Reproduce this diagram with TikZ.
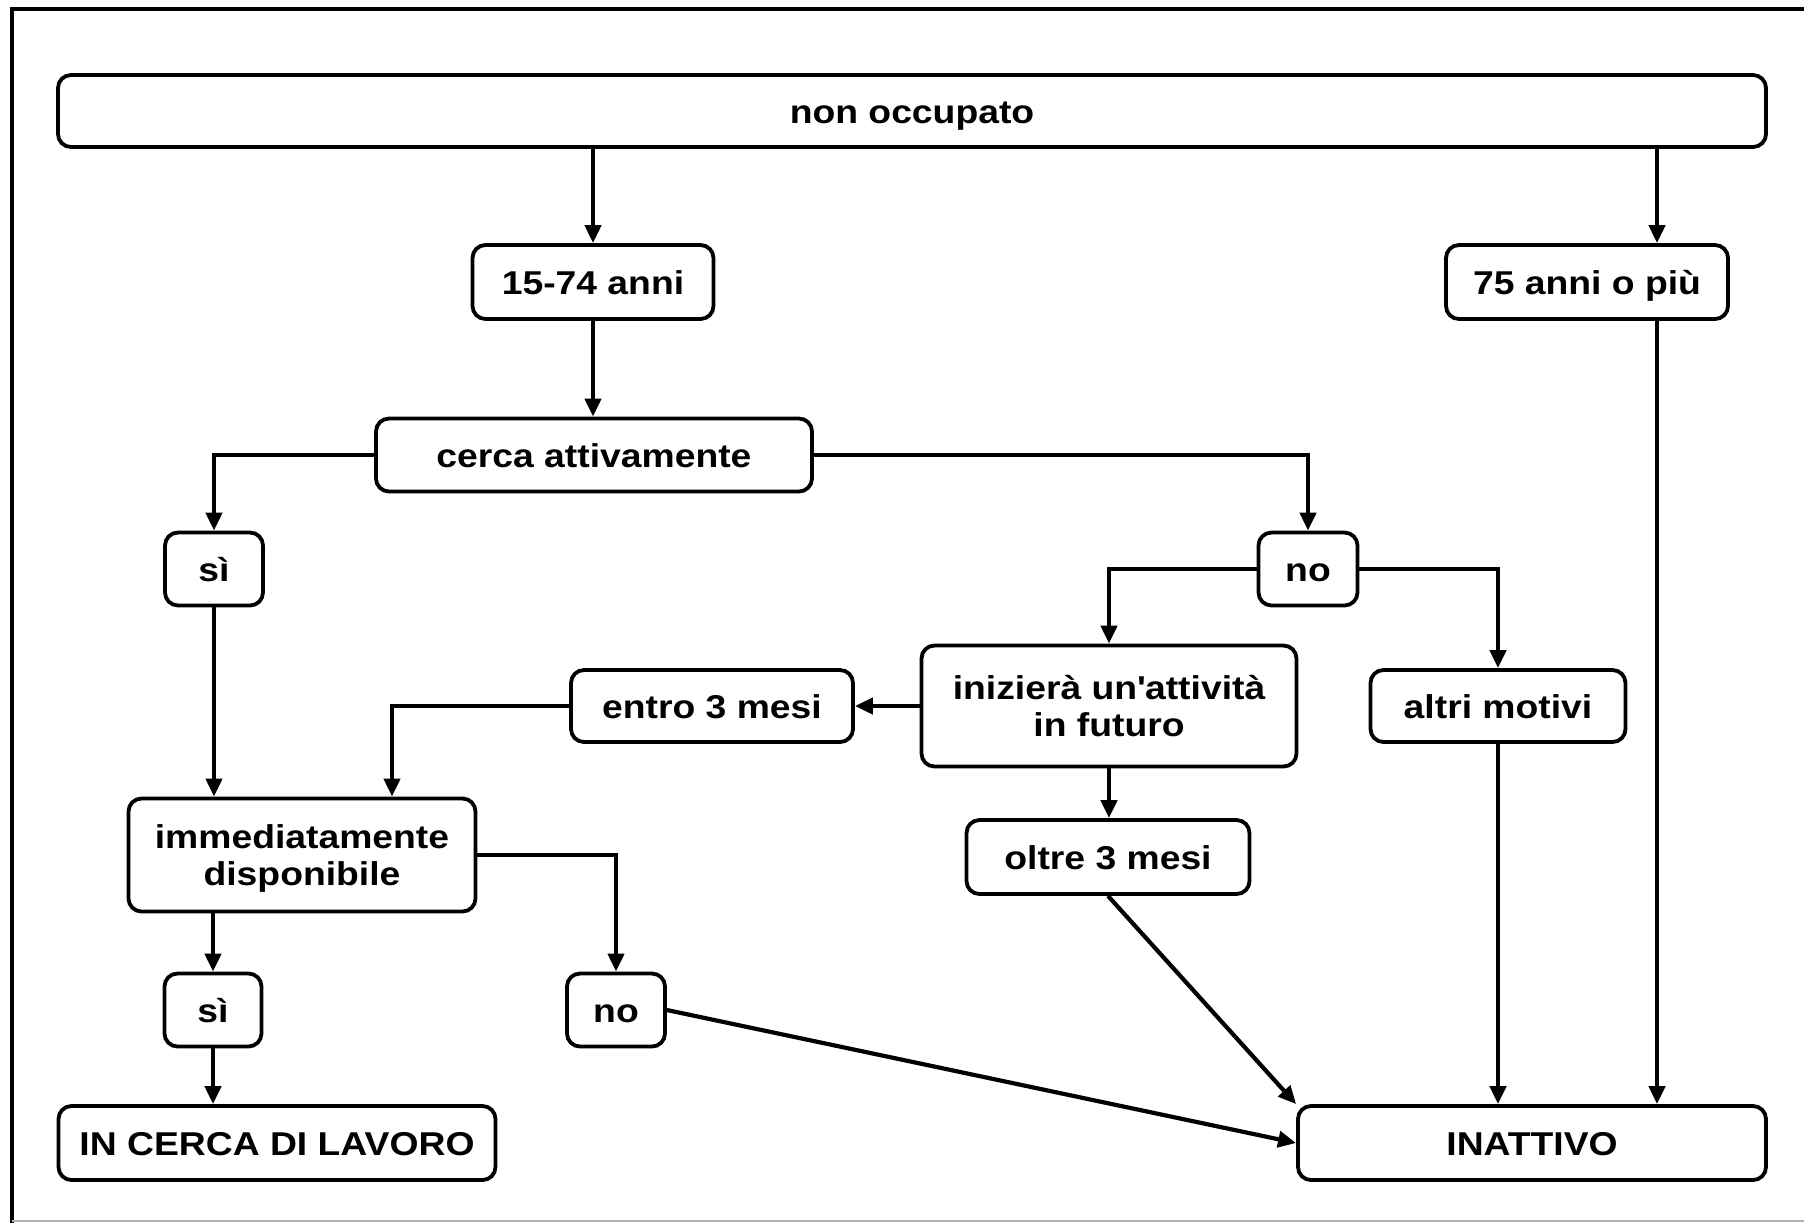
\documentclass[tikz,border=0pt]{standalone}
\usepackage{fontspec}
\setmainfont{Liberation Sans}[FakeStretch=1.13]
\usetikzlibrary{arrows.meta}
\begin{document}
\begin{tikzpicture}[x=0.5pt,y=-0.5pt,
  box/.style={draw=black,line width=1.9pt,rounded corners=6.5pt,fill=white,
    font=\bfseries\fontsize{16.5}{18.5}\selectfont,align=center,inner sep=0pt},
  one/.style={box,text height=15pt,text depth=3pt},
  two/.style={box,text depth=0pt},
  arr/.style={line width=2.1pt,-{Triangle[length=9pt,width=8pt]}}]
\useasboundingbox (0,0) rectangle (1804,1223);
\fill[white] (0,0) rectangle (1804,1223);
% frame
\draw[line width=2.2pt] (12,1223) -- (12,9) -- (1804,9);
\draw[line width=0.6pt,gray!60] (12,1221) -- (1804,1221);
% nodes
\node[one,minimum width=854pt,minimum height=36pt] (nonocc) at (912,111) {non occupato};
\node[one,minimum width=120.5pt,minimum height=37pt] (anni) at (593,282) {15-74 anni};
\node[one,minimum width=141pt,minimum height=37pt] (old) at (1587,282) {75 anni o più};
\node[one,minimum width=218pt,minimum height=36.5pt] (cerca) at (594,455) {cerca attivamente};
\node[one,minimum width=49pt,minimum height=36.5pt] (si1) at (214,569) {sì};
\node[one,minimum width=49.5pt,minimum height=36.5pt] (no1) at (1308,569) {no};
\node[one,minimum width=141pt,minimum height=36pt] (entro) at (712,706) {entro 3 mesi};
\node[two,minimum width=187.5pt,minimum height=60.5pt] (inizi) at (1109,706) {inizierà un\textquotesingle attività\\in futuro};
\node[one,minimum width=127.5pt,minimum height=36pt] (altri) at (1498,706) {altri motivi};
\node[two,minimum width=173.5pt,minimum height=56.5pt] (immed) at (302,855) {immediatamente\\disponibile};
\node[one,minimum width=141.5pt,minimum height=37pt] (oltre) at (1108,857) {oltre 3 mesi};
\node[one,minimum width=48.5pt,minimum height=36.5pt] (si2) at (213,1010) {sì};
\node[one,minimum width=49pt,minimum height=36.5pt] (no2) at (616,1010) {no};
\node[one,minimum width=218.5pt,minimum height=37pt] (incerca) at (277,1143) {IN CERCA DI LAVORO};
\node[one,minimum width=234pt,minimum height=37pt] (inatt) at (1532,1143) {INATTIVO};
% helper coordinates
\coordinate (c75) at (1657,0);
\coordinate (c392) at (392,0);
% connectors
\draw[arr] (nonocc.south -| anni.north) -- (anni.north);
\draw[arr] (nonocc.south -| c75) -- (c75 |- old.north);
\draw[arr] (anni.south) -- (anni.south |- cerca.north);
\draw[arr] (cerca.west) -| (si1.north);
\draw[arr] (cerca.east) -| (no1.north);
\draw[arr] (si1.south) -- (si1.south |- immed.north);
\draw[arr] (no1.west) -| (inizi.north);
\draw[arr] (no1.east) -| (altri.north);
\draw[arr] (inizi.west) -- (entro.east);
\draw[arr] (entro.west) -| (c392 |- immed.north);
\draw[arr] (inizi.south) -- (inizi.south |- oltre.north);
\draw[arr] (immed.east) -| (no2.north);
\draw[arr] (si2.north |- immed.south) -- (si2.north);
\draw[arr] (si2.south) -- (si2.south |- incerca.north);
\draw[arr] (no2.east) -- (inatt.west);
\draw[arr] (oltre.south) -- (inatt.north west);
\draw[arr] (altri.south) -- (altri.south |- inatt.north);
\draw[arr] (old.south -| c75) -- (c75 |- inatt.north);
\end{tikzpicture}
\end{document}
